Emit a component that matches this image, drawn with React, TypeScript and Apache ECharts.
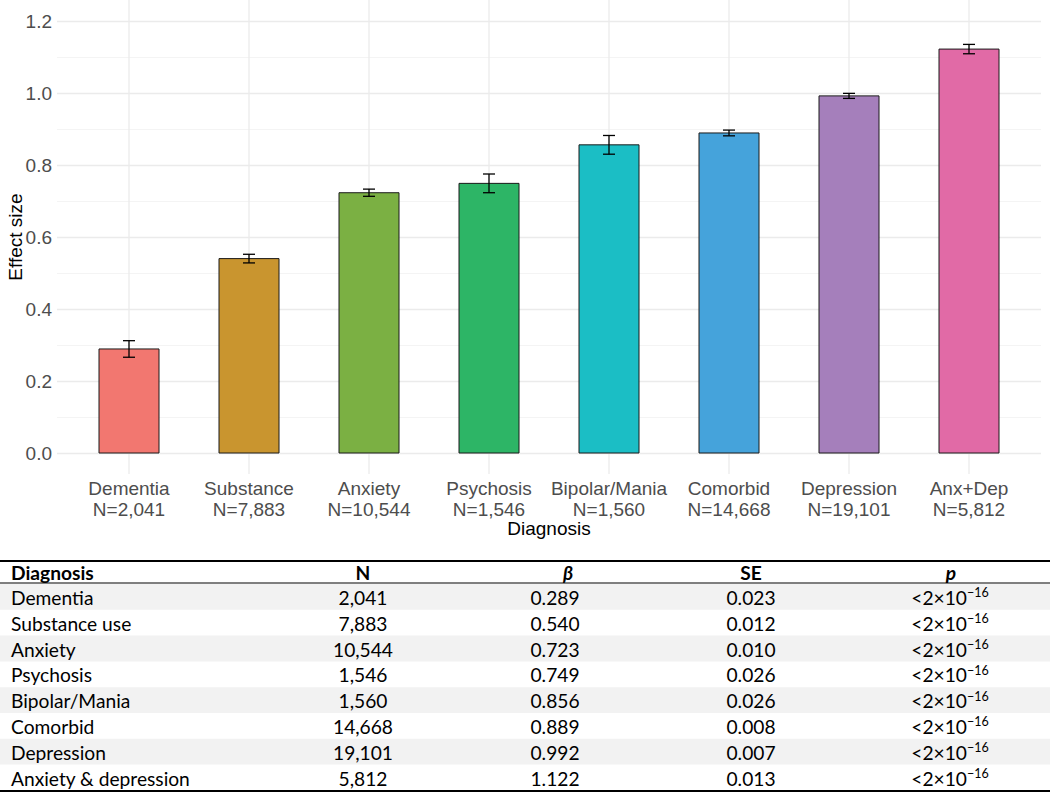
import React, { useEffect, useRef } from "react";
import * as echarts from "echarts";

const categories = ["Dementia", "Substance", "Anxiety", "Psychosis", "Bipolar/Mania", "Comorbid", "Depression", "Anx+Dep"];
const tableNames = ["Dementia", "Substance use", "Anxiety", "Psychosis", "Bipolar/Mania", "Comorbid", "Depression", "Anxiety & depression"];
const nValues = [2041, 7883, 10544, 1546, 1560, 14668, 19101, 5812];
const betaValues = [0.289, 0.54, 0.723, 0.749, 0.856, 0.889, 0.992, 1.122];
const seValues = [0.023, 0.012, 0.01, 0.026, 0.026, 0.008, 0.007, 0.013];
const barColors = ["#F27770", "#C9952F", "#7BB043", "#2DB566", "#1BBEC5", "#45A3DB", "#A57FBB", "#E16AA6"];
const tableHeaders = ["Diagnosis", "N", "β", "SE", "p"];

const PANEL_TOP = 1.2583;
const PANEL_BOTTOM = -0.0583;
const AX_FONT = "'Liberation Sans', Arial, sans-serif";
const TB_FONT = "Lato, 'Open Sans', sans-serif";
const TB_SIZE = 19.2;

const fmtN = (n: number) => n.toLocaleString("en-US");

function buildTable(): any[] {
  const els: any[] = [];
  const rowTop = 584;
  const rowH = 25.8;
  const colX = [11, 363, 555, 751, 950];
  const headX = [11, 363, 568, 751, 951];
  tableNames.forEach((_, r) => {
    if (r % 2 === 0) {
      els.push({
        type: "rect",
        shape: { x: 0, y: rowTop + r * rowH, width: 1050, height: rowH },
        style: { fill: "#f2f2f2" },
        silent: true,
      });
    }
  });
  els.push({ type: "line", shape: { x1: 0, y1: 561, x2: 1050, y2: 561 }, style: { stroke: "#000", lineWidth: 2 } });
  els.push({ type: "line", shape: { x1: 0, y1: 583, x2: 1050, y2: 583 }, style: { stroke: "#000", lineWidth: 1 } });
  els.push({ type: "line", shape: { x1: 0, y1: 791, x2: 1050, y2: 791 }, style: { stroke: "#000", lineWidth: 2 } });
  tableHeaders.forEach((h, c) => {
    els.push({
      type: "text",
      x: headX[c],
      y: 572,
      style: {
        text: h,
        fill: "#000",
        fontFamily: TB_FONT,
        fontSize: TB_SIZE,
        fontWeight: "bold",
        fontStyle: c === 2 || c === 4 ? "italic" : "normal",
        align: c === 0 ? "left" : "center",
        verticalAlign: "middle",
      },
    });
  });
  tableNames.forEach((name, r) => {
    const cy = rowTop + r * rowH + rowH / 2 + 0.5;
    const vals = [name, fmtN(nValues[r]), betaValues[r].toFixed(3), seValues[r].toFixed(3)];
    vals.forEach((v, c) => {
      els.push({
        type: "text",
        x: colX[c],
        y: cy,
        style: {
          text: v,
          fill: "#000",
          fontFamily: TB_FONT,
          fontSize: TB_SIZE,
          align: c === 0 ? "left" : "center",
          verticalAlign: "middle",
        },
      });
    });
    els.push({
      type: "text",
      x: colX[4],
      y: cy,
      style: {
        text: "{a|<2×10}{b|−16}",
        fill: "#000",
        fontFamily: TB_FONT,
        fontSize: TB_SIZE,
        align: "center",
        verticalAlign: "middle",
        rich: {
          a: { fontFamily: TB_FONT, fontSize: TB_SIZE, fill: "#000", lineHeight: 22 },
          b: { fontFamily: TB_FONT, fontSize: 12.5, fill: "#000", lineHeight: 12, verticalAlign: "top" },
        },
      },
    });
  });
  return els;
}

export default function App() {
  const ref = useRef<HTMLDivElement>(null);
  useEffect(() => {
    if (!ref.current) return;
    const chart = echarts.init(ref.current, null, { renderer: "svg" });
    const data = categories.map((_, i) => [i, betaValues[i], seValues[i]]);
    const option: any = {
      animation: false,
      backgroundColor: "#ffffff",
      grid: { left: 57, right: 9, top: 21, height: 432, containLabel: false },
      xAxis: {
        type: "value",
        min: -0.6,
        max: 7.6,
        show: false,
        splitLine: { show: false },
      },
      yAxis: {
        type: "value",
        min: 0,
        max: 1.2,
        interval: 0.2,
        axisLine: { show: false },
        axisTick: { show: false },
        axisLabel: {
          formatter: (v: number) => v.toFixed(1),
          fontSize: 19,
          fontFamily: AX_FONT,
          color: "#4d4d4d",
          margin: 5,
        },
        splitLine: { show: true, lineStyle: { color: "#ebebeb", width: 1.3 } },
        minorTick: { show: false, splitNumber: 2 },
        minorSplitLine: { show: true, lineStyle: { color: "#f4f4f4", width: 1 } },
      },
      series: [
        {
          type: "custom",
          clip: false,
          data,
          renderItem: (params: any, api: any) => {
            const i = api.value(0);
            const beta = api.value(1);
            const se = api.value(2);
            const gTop = api.coord([i, PANEL_TOP]);
            const gBot = api.coord([i, PANEL_BOTTOM]);
            const p0 = api.coord([i - 0.25, beta]);
            const p1 = api.coord([i + 0.25, 0]);
            const eTop = api.coord([i, beta + se]);
            const eBot = api.coord([i, beta - se]);
            const capL = api.coord([i - 0.05, 0])[0];
            const capR = api.coord([i + 0.05, 0])[0];
            const idx = params.dataIndex;
            return {
              type: "group",
              children: [
                {
                  type: "line",
                  shape: { x1: gTop[0], y1: gTop[1], x2: gBot[0], y2: gBot[1] },
                  style: { stroke: "#ebebeb", lineWidth: 1.3 },
                },
                {
                  type: "rect",
                  shape: { x: p0[0], y: p0[1], width: p1[0] - p0[0], height: p1[1] - p0[1] },
                  style: { fill: barColors[idx], stroke: "#1a1a1a", lineWidth: 1 },
                },
                {
                  type: "line",
                  shape: { x1: eTop[0], y1: eTop[1], x2: eBot[0], y2: eBot[1] },
                  style: { stroke: "#000", lineWidth: 1.3 },
                },
                {
                  type: "line",
                  shape: { x1: capL, y1: eTop[1], x2: capR, y2: eTop[1] },
                  style: { stroke: "#000", lineWidth: 1.3 },
                },
                {
                  type: "line",
                  shape: { x1: capL, y1: eBot[1], x2: capR, y2: eBot[1] },
                  style: { stroke: "#000", lineWidth: 1.3 },
                },
                {
                  type: "text",
                  x: gBot[0],
                  y: api.coord([i, 0])[1] + 25,
                  style: {
                    text: categories[idx] + "\nN=" + fmtN(nValues[idx]),
                    fill: "#4d4d4d",
                    fontFamily: AX_FONT,
                    fontSize: 19,
                    lineHeight: 21,
                    align: "center",
                    verticalAlign: "top",
                  },
                },
              ],
            };
          },
        },
      ],
      graphic: [
        {
          type: "text",
          x: 549,
          y: 528,
          style: {
            text: "Diagnosis",
            fill: "#000",
            fontFamily: AX_FONT,
            fontSize: 19,
            align: "center",
            verticalAlign: "middle",
          },
        },
        {
          type: "text",
          x: 15,
          y: 237,
          rotation: Math.PI / 2,
          style: {
            text: "Effect size",
            fill: "#000",
            fontFamily: AX_FONT,
            fontSize: 19,
            align: "center",
            verticalAlign: "middle",
          },
        },
        ...buildTable(),
      ],
    };
    chart.setOption(option);
    return () => chart.dispose();
  }, []);
  return <div ref={ref} style={{ position: "absolute", left: 0, top: 0, width: 1050, height: 793 }} />;
}
